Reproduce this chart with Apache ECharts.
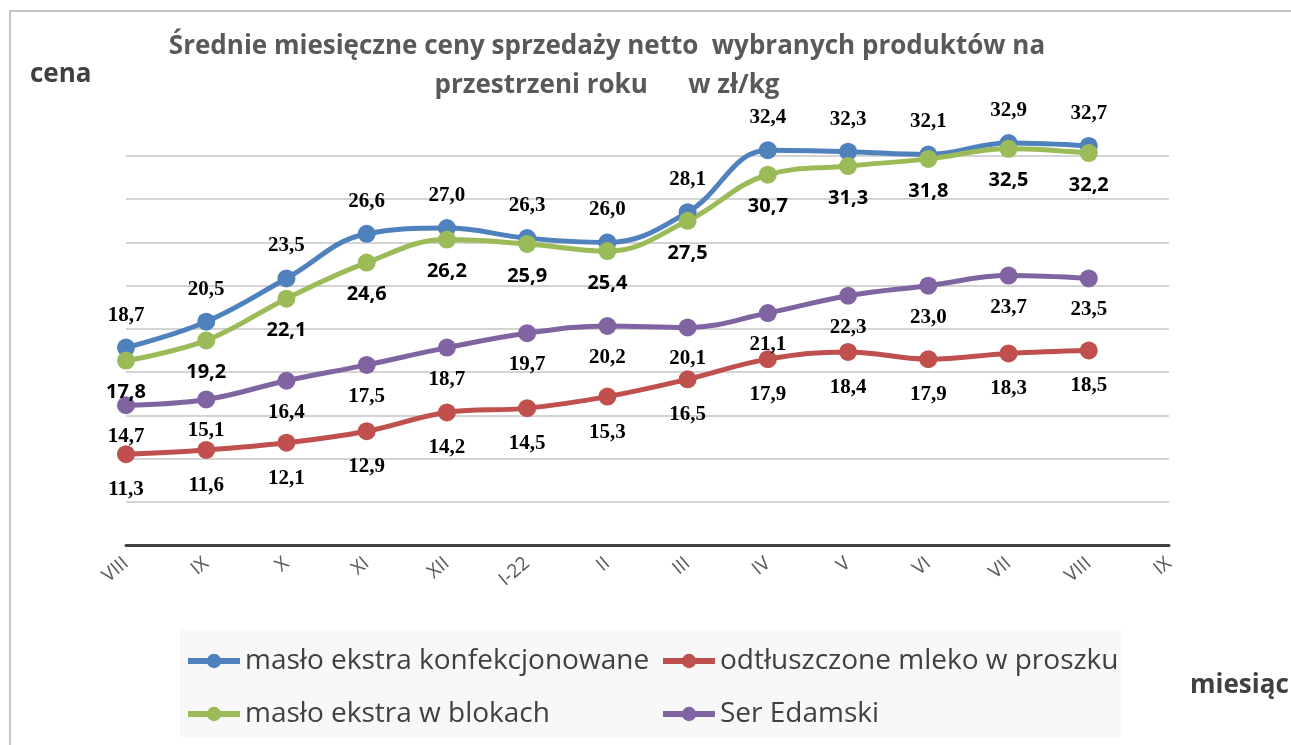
<!DOCTYPE html>
<html>
<head>
<meta charset="utf-8">
<script src="https://cdn.jsdelivr.net/npm/echarts@6/dist/echarts.min.js"></script>
<style>html,body{margin:0;padding:0;background:#fff;}#c{width:1291px;height:745px;}</style>
</head>
<body>
<div id="c"></div>
<script>
const categories = ['VIII','IX','X','XI','XII','I-22','II','III','IV','V','VI','VII','VIII','IX'];
const masloKonf = [18.7, 20.5, 23.5, 26.6, 27.0, 26.3, 26.0, 28.1, 32.4, 32.3, 32.1, 32.9, 32.7];
const mleko = [11.3, 11.6, 12.1, 12.9, 14.2, 14.5, 15.3, 16.5, 17.9, 18.4, 17.9, 18.3, 18.5];
const masloBlok = [17.8, 19.2, 22.1, 24.6, 26.2, 25.9, 25.4, 27.5, 30.7, 31.3, 31.8, 32.5, 32.2];
const serEdamski = [14.7, 15.1, 16.4, 17.5, 18.7, 19.7, 20.2, 20.1, 21.1, 22.3, 23.0, 23.7, 23.5];
const names = ['masło ekstra konfekcjonowane','odtłuszczone mleko w proszku','masło ekstra w blokach','Ser Edamski'];
const colors = ['#4F81BD','#C0504D','#9BBB59','#8064A2'];

const fmt = p => p.value.toFixed(1).replace('.', ',');
const serifLabel = {fontFamily:'Liberation Serif', fontWeight:'bold', fontSize:21, color:'#000'};
const sansLabel = {fontFamily:'Open Sans', fontWeight:'bold', fontSize:20, color:'#000'};

function mk(name, data, color, pos, dist, lab){
  return {
    name, type:'line', data, smooth:0.4, clip:false,
    symbol:'circle', symbolSize:18,
    lineStyle:{width:5, color}, itemStyle:{color},
    label:Object.assign({show:true, position:pos, distance:dist, formatter:fmt}, lab),
    emphasis:{disabled:true}
  };
}

const legendText = {fontFamily:'Open Sans', fontSize:28, color:'#404040', lineHeight:28};
const legendBase = {orient:'vertical', top:647, padding:0, itemWidth:52, itemHeight:18, itemGap:25,
  lineStyle:{width:6}, textStyle:legendText};
const chart = echarts.init(document.getElementById('c'));
chart.setOption({
  animation:false,
  backgroundColor:'#fff',
  grid:{left:126, right:122, top:156, bottom:200},
  xAxis:{
    type:'category', data:categories, boundaryGap:false,
    axisLine:{lineStyle:{color:'#404040', width:3}},
    axisTick:{show:false},
    axisLabel:{rotate:40, margin:16, fontFamily:'Open Sans', fontSize:19, color:'#595959'},
    splitLine:{show:false}
  },
  yAxis:{
    type:'value', min:5, max:32, interval:3,
    axisLabel:{show:false}, axisLine:{show:false}, axisTick:{show:false},
    splitLine:{lineStyle:{color:'#d4d4d4', width:2}}
  },
  legend:[
    Object.assign({data:[names[0], names[2]], left:185}, legendBase),
    Object.assign({data:[names[1], names[3]], left:660}, legendBase)
  ],
  graphic:[
    {type:'rect', z:-10, shape:{x:10, y:11, width:1300, height:800}, style:{fill:'none', stroke:'#c4c4c4', lineWidth:2}},
    {type:'rect', z:-9, shape:{x:180, y:630, width:941, height:107}, style:{fill:'#f8f8f8'}},
    {type:'text', style:{text:'Średnie miesięczne ceny sprzedaży netto  wybranych produktów na', x:607, y:47, textAlign:'center', textVerticalAlign:'middle', font:'bold 26px "Open Sans"', fill:'#595959'}},
    {type:'text', style:{text:'przestrzeni roku      w zł/kg', x:607, y:86, textAlign:'center', textVerticalAlign:'middle', font:'bold 26px "Open Sans"', fill:'#595959'}},
    {type:'text', style:{text:'cena', x:30, y:75, textAlign:'left', textVerticalAlign:'middle', font:'bold 26px "Open Sans"', fill:'#404040'}},
    {type:'text', style:{text:'miesiąc', x:1190, y:686, textAlign:'left', textVerticalAlign:'middle', font:'bold 26px "Open Sans"', fill:'#404040'}}
  ],
  series:[
    mk(names[0], masloKonf, colors[0], 'top', 13, serifLabel),
    mk(names[1], mleko, colors[1], 'bottom', 16, serifLabel),
    mk(names[2], masloBlok, colors[2], 'bottom', 13, sansLabel),
    mk(names[3], serEdamski, colors[3], 'bottom', 12, serifLabel)
  ]
});
</script>
</body>
</html>
